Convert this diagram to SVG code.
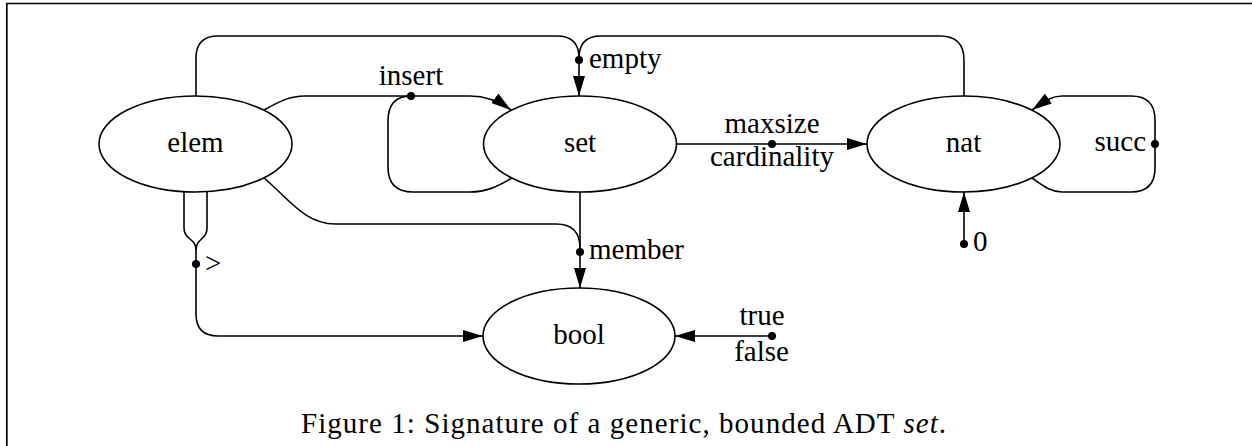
<svg xmlns="http://www.w3.org/2000/svg" width="1252" height="446" viewBox="0 0 1252 446">
  <style>
    .node ellipse { fill: #ffffff; stroke: #000000; stroke-width: 1.6; }
    .lbl { font-family: "Liberation Serif", "DejaVu Serif", serif; font-size: 29px; fill: #000000; }
    .nlbl { text-anchor: middle; }
    .edge path { fill: none; stroke: #000000; stroke-width: 1.6; }
    .arrow { marker-end: url(#ah); }
    .dot { fill: #000000; }
    .cap { font-family: "Liberation Serif", "DejaVu Serif", serif; font-size: 29px; fill: #000000; }
  </style>
  <defs>
    <marker id="ah" markerUnits="userSpaceOnUse" markerWidth="20" markerHeight="12" refX="20" refY="6" orient="auto" viewBox="0 0 20 12">
      <path d="M0,0 L20,6 L0,12 z" fill="#000000"/>
    </marker>
  </defs>
  <rect x="0" y="0" width="1252" height="446" fill="#ffffff"/>
  <path d="M6.8,446 V3.5 H1252" fill="none" stroke="#000000" stroke-width="1.7"/>

  <g id="connectors" class="edge">
    <!-- empty -->
    <path d="M196,96 V58 Q196,36 218,36 H557 Q579,36 579,58 V60"/>
    <path d="M964,96 V60 Q964,36 940,36 H601 Q579,36 579,58"/>
    <path class="arrow" d="M579,60 V96"/>
    <!-- insert -->
    <path d="M264,110 C280,101 290,96 305,96 H411"/>
    <path d="M512,178 C497,187 486,192 470,192 H413 Q388,192 388,167 V121 Q388,96 411,96"/>
    <path class="arrow" d="M411,96 H470 C488,96 500,102 511,110"/>
    <!-- maxsize / cardinality -->
    <path d="M676,144 H772"/>
    <path class="arrow" d="M772,144 H867"/>
    <!-- succ -->
    <path class="arrow" d="M1155,144 V120 Q1155,96 1131,96 H1062 C1050,96 1042,103 1032,110"/>
    <path d="M1155,144 V168 Q1155,192 1131,192 H1062 C1050,192 1042,185 1032,178"/>
    <!-- 0 -->
    <path class="arrow" d="M964,244 V192"/>
    <!-- member -->
    <path d="M580,192 V252"/>
    <path d="M264,178 C290,200 305,224 335,224 H556 Q580,224 580,248 V252"/>
    <path class="arrow" d="M580,252 V288"/>
    <!-- greater than -->
    <path d="M184,192 V228 C184,240 196,238 196,250 V264"/>
    <path d="M207,192 V228 C207,240 196,238 196,250"/>
    <path class="arrow" d="M196,264 V314 Q196,336 218,336 H483"/>
    <!-- true / false -->
    <path class="arrow" d="M772,336 H675"/>
  </g>

  <g id="dots">
    <circle class="dot" cx="579" cy="60" r="4"/>
    <circle class="dot" cx="411" cy="96" r="4"/>
    <circle class="dot" cx="772" cy="144" r="4"/>
    <circle class="dot" cx="1155" cy="144" r="4"/>
    <circle class="dot" cx="964" cy="244" r="4"/>
    <circle class="dot" cx="580" cy="252" r="4"/>
    <circle class="dot" cx="196" cy="264" r="4"/>
    <circle class="dot" cx="772" cy="336" r="4"/>
  </g>

  <g id="node-elem" class="node">
    <ellipse cx="195.5" cy="144" rx="96.5" ry="48"/>
    <text class="lbl nlbl" x="195.5" y="152">elem</text>
  </g>
  <g id="node-set" class="node">
    <ellipse cx="580" cy="144" rx="96.5" ry="48"/>
    <text class="lbl nlbl" x="580" y="152">set</text>
  </g>
  <g id="node-nat" class="node">
    <ellipse cx="963.5" cy="144" rx="96.5" ry="48"/>
    <text class="lbl nlbl" x="963.5" y="152">nat</text>
  </g>
  <g id="node-bool" class="node">
    <ellipse cx="579" cy="336" rx="96" ry="48"/>
    <text class="lbl nlbl" x="579" y="344">bool</text>
  </g>

  <g id="labels">
    <text class="lbl" x="411" y="85" text-anchor="middle">insert</text>
    <text class="lbl" x="589" y="68">empty</text>
    <text class="lbl" x="772" y="133" text-anchor="middle">maxsize</text>
    <text class="lbl" x="772" y="166" text-anchor="middle">cardinality</text>
    <text class="lbl" x="1146" y="151" text-anchor="end">succ</text>
    <text class="lbl" x="973" y="251">0</text>
    <text class="lbl" x="205" y="273" font-size="34">&gt;</text>
    <text class="lbl" x="589" y="259">member</text>
    <text class="lbl" x="762" y="325" text-anchor="middle">true</text>
    <text class="lbl" x="761.5" y="361" text-anchor="middle">false</text>
  </g>

  <text class="cap" x="301" y="433" textLength="645" lengthAdjust="spacing">Figure 1: Signature of a generic, bounded ADT <tspan font-style="italic">set</tspan>.</text>
</svg>
